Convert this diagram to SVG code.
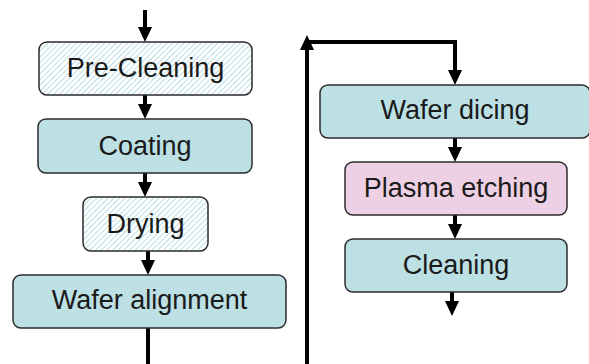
<svg xmlns="http://www.w3.org/2000/svg" width="589" height="364" viewBox="0 0 589 364">
<defs>
<pattern id="hatch" patternUnits="userSpaceOnUse" width="4" height="4" patternTransform="rotate(45)">
<rect width="4" height="4" fill="#ffffff"/>
<line x1="0" y1="0" x2="0" y2="4" stroke="#b8dde3" stroke-width="2"/>
</pattern>
<marker id="ah" markerUnits="userSpaceOnUse" markerWidth="15" markerHeight="15" viewBox="0 0 15 15" refX="4" refY="7.5" orient="auto">
<path d="M0,0.5 L15,7.5 L0,14.5 Z" fill="#000"/>
</marker>
</defs>
<style>
.box{stroke:#2b2b2b;stroke-width:1.5}
.blue{fill:#bce0e4}
.pink{fill:#eed0e4}
.hat{fill:url(#hatch)}
.lbl{font-family:"Liberation Sans",Arial,sans-serif;font-size:27px;fill:#1a1a1a;text-anchor:middle}
.con{fill:none;stroke:#000;stroke-width:4;marker-end:url(#ah)}
</style>
<rect width="589" height="364" fill="#fff"/>
<g id="connectors">
<path class="con" d="M145,10 V31"/>
<path class="con" d="M145,95 V108"/>
<path class="con" d="M145,173 V186"/>
<path class="con" d="M148,251 V264"/>
<path class="con" d="M148,328 V368 H307 V46"/>
<path class="con" d="M307,42 H455 V74"/>
<path class="con" d="M455,138 V151"/>
<path class="con" d="M455,215 V228"/>
<path class="con" d="M452,292 V305"/>
</g>
<g id="pre-cleaning">
<rect class="box hat" x="39" y="42" width="213" height="53" rx="8"/>
<text class="lbl" x="145.5" y="77">Pre-Cleaning</text>
</g>
<g id="coating">
<rect class="box blue" x="38" y="119" width="214" height="54" rx="8"/>
<text class="lbl" x="145" y="155">Coating</text>
</g>
<g id="drying">
<rect class="box hat" x="83" y="197" width="125" height="54" rx="8"/>
<text class="lbl" x="145.5" y="233">Drying</text>
</g>
<g id="wafer-alignment">
<rect class="box blue" x="13" y="275" width="273" height="53" rx="8"/>
<text class="lbl" x="149.5" y="309">Wafer alignment</text>
</g>
<g id="wafer-dicing">
<rect class="box blue" x="320" y="85" width="270" height="53" rx="8"/>
<text class="lbl" x="455" y="119">Wafer dicing</text>
</g>
<g id="plasma-etching">
<rect class="box pink" x="345" y="162" width="222" height="53" rx="8"/>
<text class="lbl" x="456" y="197">Plasma etching</text>
</g>
<g id="cleaning">
<rect class="box blue" x="345" y="239" width="222" height="53" rx="8"/>
<text class="lbl" x="456" y="274">Cleaning</text>
</g>
</svg>
